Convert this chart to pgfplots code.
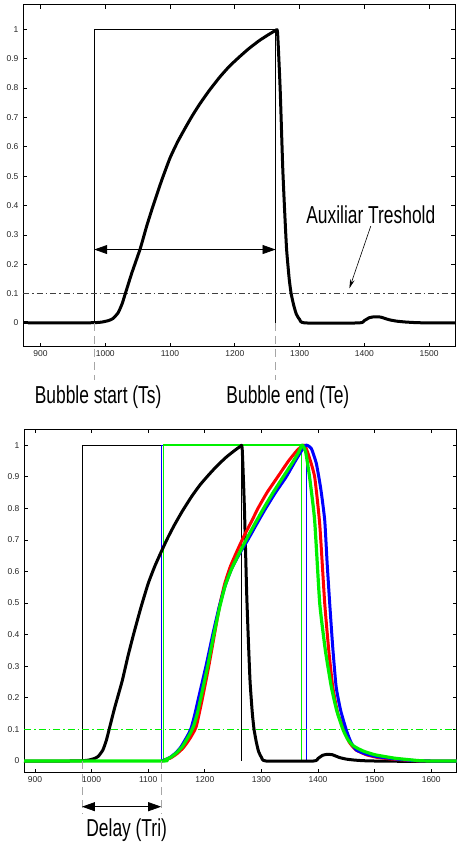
\documentclass[border=0pt]{standalone}
\usepackage{fontspec}
\setmainfont{Liberation Sans}
\usepackage{pgfplots}
\usepackage{pgfplotstable}
\pgfplotsset{compat=1.18}
\usetikzlibrary{arrows.meta}
\definecolor{mygreen}{RGB}{0,240,0}
\definecolor{myblue}{RGB}{0,0,255}
\definecolor{myred}{RGB}{255,0,0}

\pgfplotstableread{
x y
880.6 0
960 0
985 0.001
995 0.003
1005 0.008
1012 0.015
1020 0.035
1026 0.065
1031 0.10
1041 0.17
1054 0.253
1064 0.33
1074 0.40
1087 0.485
1100 0.562
1112 0.618
1125 0.670
1135 0.708
1146 0.746
1160 0.790
1177 0.838
1192 0.875
1208 0.908
1222 0.935
1238 0.962
1252 0.982
1263 0.996
1266 0.99
1270 0.80
1274 0.53
1277 0.38
1280 0.25
1284 0.15
1287 0.10
1291 0.06
1295 0.03
1300 0.012
1308 0.0
1392 0
1400 0.008
1408 0.018
1416 0.021
1425 0.02
1438 0.011
1450 0.006
1464 0.003
1480 0.001
1500 0.0
1540 0.0
}\blackcurve

\newcommand{\lbl}[1]{\scalebox{0.71}[1]{\fontsize{24.5}{25}\selectfont #1}}

\pgfplotsset{myax/.style={
  scale only axis,
  axis line style={line width=1pt},
  tick align=inside,
  major tick length=4pt,
  tick style={black, line width=0.7pt},
  ticklabel style={font=\fontsize{8.5}{9}\selectfont, color=black!85},
  /pgf/number format/assume math mode=true,
  /pgf/number format/1000 sep={},
  clip=false,
  xtick={900,1000,1100,1200,1300,1400,1500,1600},
  ytick={0,0.1,0.2,0.3,0.4,0.5,0.6,0.7,0.8,0.9,1},
  yticklabel style={xshift=-1pt},
  xticklabel style={yshift=-0.5pt},
}}

\begin{document}
\begin{tikzpicture}
\useasboundingbox (0,0) rectangle (457pt,844pt);
% ---------------- top panel ----------------
\begin{axis}[myax,
  at={(23pt,497pt)}, anchor=south west,
  width=432pt, height=342pt,
  xmin=873, xmax=1540, ymin=-0.082, ymax=1.083]
\addplot[black, line width=0.8pt] coordinates {(983,0) (983,1) (1263,1) (1263,0)};
\addplot[black!75, line width=0.6pt, dash pattern=on 6pt off 3pt on 1.5pt off 3pt] coordinates {(873,0.1) (1540,0.1)};
\addplot[black, line width=3pt] coordinates {(873,0) (881,0)};
\addplot[black, line width=3pt, line join=round, smooth, tension=0.3] table[x=x,y=y] {\blackcurve};
\draw[gray!70, line width=0.9pt, dash pattern=on 8pt off 5pt] (axis cs:983,0) -- (axis cs:983,-0.194);
\draw[gray!70, line width=0.9pt, dash pattern=on 8pt off 5pt] (axis cs:1263,0) -- (axis cs:1263,-0.194);
\draw[{Triangle[length=13pt,width=9pt]}-{Triangle[length=13pt,width=9pt]}, line width=0.8pt] (axis cs:983,0.25) -- (axis cs:1263,0.25);
\draw[-{Stealth[length=9pt,width=4.5pt]}, line width=0.6pt] (axis cs:1410,0.330) -- (axis cs:1377,0.118);
\node[anchor=base, inner sep=0pt] at (axis cs:989,-0.276) {\lbl{Bubble start (Ts)}};
\node[anchor=base, inner sep=0pt] at (axis cs:1282,-0.276) {\lbl{Bubble end (Te)}};
\node[anchor=base, inner sep=0pt] at (axis cs:1410,0.339) {\lbl{Auxiliar Treshold}};
\end{axis}
% ---------------- bottom panel ----------------
\begin{axis}[myax,
  at={(24pt,71.3pt)}, anchor=south west,
  width=432.7pt, height=343.4pt,
  xmin=880.6, xmax=1645, ymin=-0.037, ymax=1.05]
\addplot[black, line width=0.8pt] coordinates {(983,0) (983,1) (1264,1) (1264,0)};
\addplot[myblue, line width=1.1pt] coordinates {(1123,0) (1123,1) (1379,1) (1379,0)};
\addplot[mygreen, line width=1.4pt] coordinates {(1127.5,0) (1127.5,1) (1371,1) (1371,0)};
\addplot[mygreen, line width=1.3pt, dash pattern=on 7pt off 3pt on 1.5pt off 3pt] coordinates {(880.6,0.1) (1645,0.1)};
\addplot[black, line width=3pt, line join=round, smooth, tension=0.3] table[x=x,y=y] {\blackcurve};
\addplot[black, line width=3pt] coordinates {(1540,0) (1645,0)};
\addplot[myred, line width=3pt, line join=round, smooth, tension=0.3] coordinates {
(1123,0) (1130,0.003) (1140,0.01) (1150,0.022) (1160,0.038) (1168,0.056) (1176,0.078) (1185,0.11)
(1196,0.20) (1207,0.30) (1217,0.40) (1226,0.49) (1235,0.56) (1245,0.615) (1257,0.665)
(1270,0.715) (1283,0.76) (1294,0.80) (1310,0.85) (1329,0.90) (1348,0.95) (1364,0.985) (1376,1.0)
(1383,0.97) (1394,0.90) (1403,0.75) (1411.8,0.50) (1419,0.35) (1426,0.235) (1435,0.15)
(1446,0.10) (1455,0.06) (1467,0.035) (1485,0.02) (1503,0.012) (1525,0.007) (1545,0.004)
(1570,0.001) (1600,0) (1645,0)};
\addplot[myblue, line width=3pt, line join=round, smooth, tension=0.3] coordinates {
(1123,0) (1130,0.004) (1140,0.013) (1150,0.028) (1158,0.045) (1165,0.066) (1171,0.085) (1176,0.105)
(1182,0.145) (1189,0.20) (1202,0.30) (1214,0.40) (1225,0.485) (1236,0.555) (1247,0.607) (1260,0.652)
(1276,0.70) (1291,0.748) (1306,0.795) (1325,0.85) (1344,0.90) (1360,0.95) (1372,0.985) (1379,1.0)
(1388,0.99) (1397,0.942) (1405,0.86) (1411.8,0.763) (1416,0.63) (1420.6,0.5) (1426,0.36)
(1432,0.235) (1440,0.16) (1450,0.098) (1458,0.06) (1467.6,0.035) (1485,0.022) (1503,0.014)
(1525,0.009) (1544,0.005) (1573,0.001) (1600,0) (1645,0)};
\addplot[mygreen, line width=3.2pt, line join=round, smooth, tension=0.3] coordinates {
(880.6,0) (1123,0) (1130,0.004) (1140,0.012) (1150,0.026) (1160,0.045) (1168,0.068) (1175,0.09)
(1181,0.115) (1187,0.152) (1193,0.20) (1205,0.30) (1216,0.40) (1226,0.485) (1236,0.555) (1247,0.607)
(1260,0.655) (1275,0.707) (1290,0.756) (1303,0.797) (1320,0.848) (1338,0.898) (1355,0.945)
(1366,0.978) (1372,1.0)
(1378,0.98) (1385,0.90) (1394,0.763) (1403,0.50) (1413,0.35) (1423.5,0.235) (1433,0.16)
(1444,0.10) (1452,0.07) (1461,0.05) (1470,0.04) (1482,0.03) (1500,0.02) (1515,0.015)
(1535,0.009) (1556,0.005) (1580,0.001) (1600,0) (1645,0)};
\draw[gray!70, line width=0.9pt, dash pattern=on 8pt off 5pt] (axis cs:983,0) -- (axis cs:983,-0.165);
\draw[gray!70, line width=0.9pt, dash pattern=on 8pt off 5pt] (axis cs:1123,0) -- (axis cs:1123,-0.165);
\draw[{Triangle[length=13pt,width=9pt]}-{Triangle[length=13pt,width=9pt]}, line width=0.8pt] (axis cs:983,-0.1446) -- (axis cs:1123,-0.1446);
\node[anchor=base, inner sep=0pt] at (axis cs:1062,-0.2396) {\lbl{Delay (Tri)}};
\end{axis}
\end{tikzpicture}
\end{document}
